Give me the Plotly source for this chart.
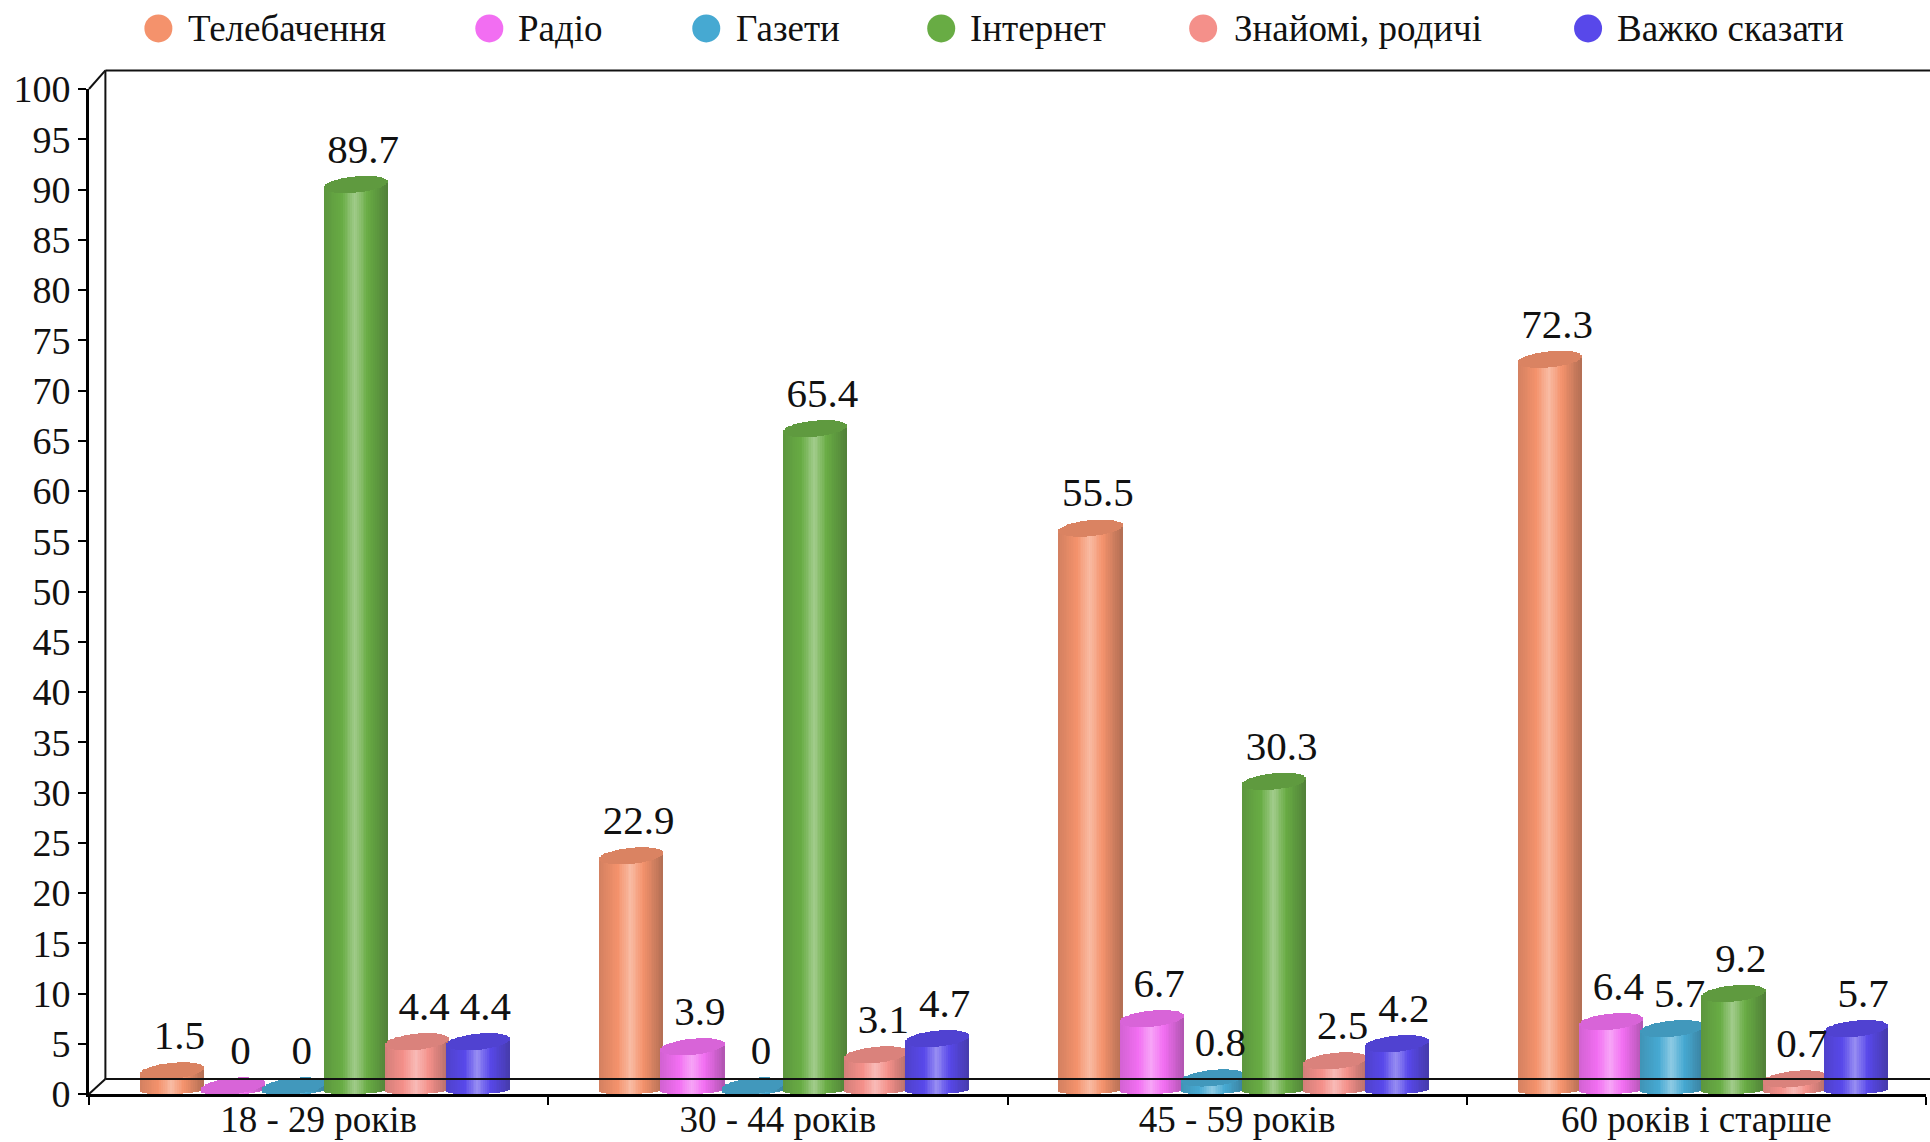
import math
import plotly.graph_objects as go

categories = ["18 - 29 років", "30 - 44 років", "45 - 59 років", "60 років і старше"]
series_names = ["Телебачення", "Радіо", "Газети", "Інтернет", "Знайомі, родичі", "Важко сказати"]
tv = [1.5, 22.9, 55.5, 72.3]
radio = [0, 3.9, 6.7, 6.4]
gazety = [0, 0, 0.8, 5.7]
internet = [89.7, 65.4, 30.3, 9.2]
znayomi = [4.4, 3.1, 2.5, 0.7]
vazhko = [4.4, 4.7, 4.2, 5.7]
series_values = [tv, radio, gazety, internet, znayomi, vazhko]
colors = ["#F4926C", "#F26EF2", "#46A9D2", "#68AC44", "#F4908A", "#5848EA"]
y_ticks = list(range(0, 101, 5))
legend_marker_px = [158, 489, 706, 941, 1203, 1588]
legend_text_px = [186, 516, 734, 968, 1232, 1615]

FONT = "Liberation Serif"
BAR_STEP, BAR_W, GROUP_SHIFT, STRIPS = 0.1333, 0.139, 0.014, 36

L, R_PX, T, B_PX = 88.6, 1926.0, 88.6, 1094.0
W, H = 1930, 1142
X0, X1, Y0, Y1 = -0.5, 3.5, 0, 100


def rgb(c):
    return [int(c[i:i + 2], 16) for i in (1, 3, 5)]


def mix(c, other, t):
    a = rgb(c)
    return "rgb(%d,%d,%d)" % tuple(round(a[i] + (other[i] - a[i]) * t) for i in range(3))


def body_colour(c, u):
    # cylinder shading: light highlight in the middle, darker to the sides
    d = abs(u + 0.02)
    if d < 0.4:
        return mix(c, (255, 255, 255), 0.38 * (1 - d / 0.4))
    dark = (d - 0.4) / 0.6
    side = 0.30 if u > 0 else 0.16
    return mix(c, (30, 30, 30), side * dark)


def top_edge(v, u, sign):
    return v + 0.8 + 0.3 * u + sign * 0.8 * math.sqrt(max(0, 1 - u * u))


def bottom_edge(u):
    return max(0, 0.35 + 0.1 * u - 0.35 * math.sqrt(max(0, 1 - u * u)))


def px(x):
    return (x - L) / (R_PX - L)


def py(y):
    return (B_PX - y) / (B_PX - T)


fig = go.Figure()
for s, (name, vals, col) in enumerate(zip(series_names, series_values, colors)):
    xs, ys, bases, cols, widths = [], [], [], [], []
    off = GROUP_SHIFT + (s - 2.5) * BAR_STEP
    strip_w = BAR_W / STRIPS
    for part in ("body", "top"):
        for c_i, v in enumerate(vals):
            for k in range(STRIPS):
                u = -1 + (k + 0.5) * 2 / STRIPS
                xs.append(c_i + off + u * BAR_W / 2)
                widths.append(strip_w * 1.2)
                if part == "body":
                    lo = bottom_edge(u)
                    hi = max(lo, top_edge(v, u, -1))
                    cols.append(body_colour(col, u))
                else:
                    lo = max(0, top_edge(v, u, -1))
                    hi = top_edge(v, u, 1)
                    cols.append(mix(col, (25, 25, 25), 0.12))
                bases.append(lo)
                ys.append(hi - lo)
    fig.add_trace(go.Bar(x=xs, y=ys, base=bases, width=widths, name=name,
                         marker=dict(color=cols, line=dict(width=0)),
                         showlegend=False, hoverinfo="skip"))

for s, (name, vals, col) in enumerate(zip(series_names, series_values, colors)):
    off = GROUP_SHIFT + (s - 2.5) * BAR_STEP + 0.016
    fig.add_trace(go.Scatter(x=[i + off for i in range(len(vals))],
                             y=[v + 1.95 for v in vals],
                             mode="text", text=[str(v) for v in vals],
                             textposition="top center", cliponaxis=False,
                             textfont=dict(family=FONT, size=41, color="#111"),
                             showlegend=False, hoverinfo="skip"))

wall = dict(type="line", xref="paper", yref="paper", line=dict(color="#111", width=2))
back_x, back_top, back_floor = 105, 70, 1079
shapes = [
    dict(wall, x0=px(back_x), x1=px(W), y0=py(back_top), y1=py(back_top)),
    dict(wall, x0=px(back_x), x1=px(back_x), y0=py(back_top), y1=py(back_floor), layer="below"),
    dict(wall, x0=px(L), x1=px(back_x), y0=py(T), y1=py(back_top)),
    dict(wall, x0=px(L), x1=px(back_x), y0=py(B_PX), y1=py(back_floor)),
    dict(wall, x0=px(back_x), x1=px(W), y0=py(back_floor), y1=py(back_floor), layer="above"),
]

# legend row above the plot
annotations = []
LEGEND_Y, LEGEND_R = 28, 14
for name, col, mx, tx in zip(series_names, colors, legend_marker_px, legend_text_px):
    shapes.append(dict(type="circle", xref="paper", yref="paper", fillcolor=col,
                       line=dict(width=0),
                       x0=px(mx - LEGEND_R), x1=px(mx + LEGEND_R),
                       y0=py(LEGEND_Y + LEGEND_R), y1=py(LEGEND_Y - LEGEND_R)))
    annotations.append(dict(xref="paper", yref="paper", x=px(tx), y=py(LEGEND_Y), text=name,
                            xanchor="left", yanchor="middle", showarrow=False,
                            font=dict(family=FONT, size=37, color="#111")))

fig.update_layout(
    width=W, height=H, barmode="overlay", bargap=0, showlegend=False,
    margin=dict(l=L, r=W - R_PX, t=T, b=H - B_PX, autoexpand=False),
    paper_bgcolor="white", plot_bgcolor="white",
    font=dict(family=FONT, color="#111"),
    shapes=shapes, annotations=annotations,
    xaxis=dict(range=[X0, X1], tickmode="array", tickvals=list(range(len(categories))),
               ticktext=categories, ticks="outside", ticklen=0, ticklabelstandoff=-9,
               tickfont=dict(family=FONT, size=37, color="#111"),
               showgrid=False, zeroline=False, showline=True, linecolor="#000", linewidth=3,
               minor=dict(ticks="outside", ticklen=8, tickwidth=2, tickcolor="#000",
                          tickmode="array", tickvals=[-0.5, 0.5, 1.5, 2.5, 3.5], showgrid=False)),
    yaxis=dict(range=[Y0, Y1], tickmode="array", tickvals=y_ticks, ticks="outside", ticklen=8,
               tickwidth=2, tickcolor="#000",
               tickfont=dict(family=FONT, size=38, color="#111"),
               showgrid=False, zeroline=False, showline=True, linecolor="#000", linewidth=3),
)
fig.write_html("out.html", config={"displayModeBar": False},
               post_script="document.body.style.margin='0';document.body.style.overflow='hidden';")
